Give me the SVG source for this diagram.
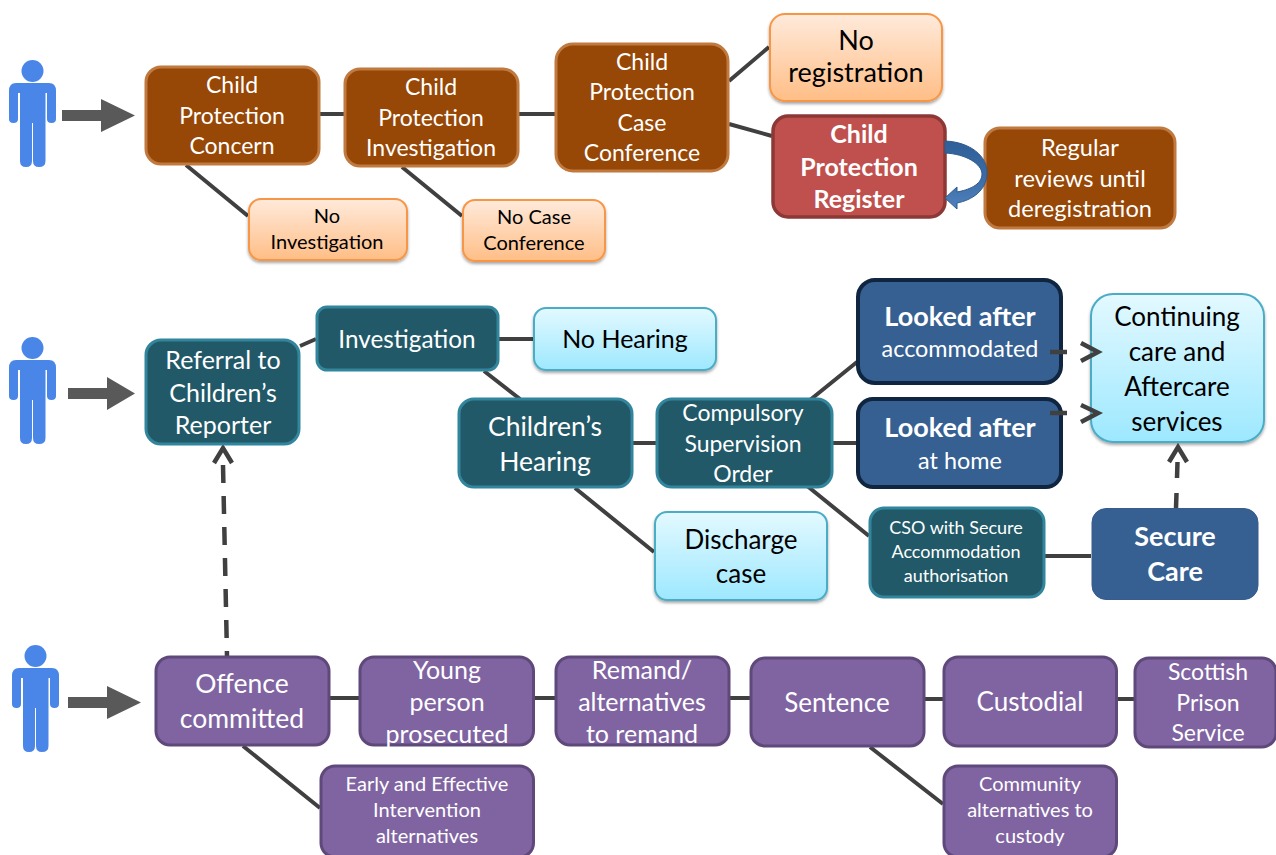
<svg xmlns="http://www.w3.org/2000/svg" xmlns:xlink="http://www.w3.org/1999/xlink" width="1276" height="855" viewBox="0 0 1276 855">
<style>
text{font-family:"Lato","Liberation Sans",sans-serif;text-anchor:middle}
.b{fill:#974706;stroke:#c0793f;stroke-width:3}
.o{fill:url(#og);stroke:#f79646;stroke-width:2;filter:url(#sh)}
.r{fill:#c0504d;stroke:#8c3836;stroke-width:3.500}
.t{fill:#215968;stroke:#31859c;stroke-width:3}
.c{fill:url(#cg);stroke:#4bacc6;stroke-width:2;filter:url(#sh)}
.n{fill:#366092;stroke:#10253f;stroke-width:4}
.s{fill:#366092;stroke:#385d8a;stroke-width:1}
.p{fill:#8064a2;stroke:#5f497a;stroke-width:3}
.w{fill:#fff}.k{fill:#000}.h{font-weight:700}
.ln{fill:none;stroke:#404040;stroke-width:4}
.da{fill:none;stroke:#404040;stroke-width:4.500}
.ah{fill:none;stroke:#404040;stroke-width:4.500}
.pa{fill:#595959}
</style>
<defs>
<linearGradient id="og" x1="0" y1="0" x2="0" y2="1"><stop offset="0" stop-color="#ffeadb"/><stop offset="1" stop-color="#ffbe86"/></linearGradient>
<linearGradient id="cg" x1="0" y1="0" x2="0" y2="1"><stop offset="0" stop-color="#e3f9ff"/><stop offset="1" stop-color="#9de8ff"/></linearGradient>
<linearGradient id="lg" x1="0" y1="0" x2="0" y2="1"><stop offset="0" stop-color="#2f5f98"/><stop offset="0.5" stop-color="#3a6ba6"/><stop offset="1" stop-color="#4f81bd"/></linearGradient>
<filter id="sh" x="-10%" y="-10%" width="120%" height="125%"><feDropShadow dx="0" dy="2" stdDeviation="1.500" flood-color="#000" flood-opacity="0.35"/></filter>
<g id="person"><circle cx="23.500" cy="12" r="11" fill="#4a86e8"/><path fill="#4a86e8" d="M7 24H40Q47 24 47 32V60Q47 64 42.500 64Q38 64 38 60V34H36.500V102Q36.500 108 30 108Q24 108 24 102V64H23V102Q23 108 17 108Q11 108 11 102V34H9V60Q9 64 4.500 64Q0 64 0 60V32Q0 24 7 24Z"/></g>
</defs>
<g id="connectors">
<path class="ln" d="M320 114H344M519 114H555M729 81L769 47M729 124L772 136M186 165L248 216M402 167L462 216"/>
<path class="ln" d="M300 346L316 339M499 339H533M484 371L520 399M633 443H656M575 488L654 552M833 443H857M810 400L857 362M806 485L869 536M1045 556H1091M330 698H359M534 698H555M730 698H750M925 699H943M1117 699H1134M243 746L320 808M870 747L943 804"/>
<path class="da" stroke-dasharray="18 13" d="M223 465L227 656"/>
<path class="ah" d="M214 463L223 448L232 463"/>
</g>
<g id="entry-arrows">
<use xlink:href="#person" href="#person" x="9" y="59"/>
<use xlink:href="#person" href="#person" x="9" y="336"/>
<use xlink:href="#person" href="#person" x="12" y="644"/>
<path class="pa" d="M62 110H101V99L135 115.500L101 132V121H62Z"/>
<path class="pa" d="M68 388H107V377L135 393.500L107 410V399H68Z"/>
<path class="pa" d="M68 697H107V686L141 702.500L107 719V708H68Z"/>
</g>
<g id="n-concern"><rect class="b" x="146" y="67" width="173" height="97" rx="15"/><g font-size="23"><text class="w" x="232" y="93">Child</text><text class="w" x="232" y="124">Protection</text><text class="w" x="232" y="154">Concern</text></g></g>
<g id="n-investigation"><rect class="b" x="345" y="69" width="173" height="97" rx="15"/><g font-size="23"><text class="w" x="431" y="95">Child</text><text class="w" x="431" y="126">Protection</text><text class="w" x="431" y="156">Investigation</text></g></g>
<g id="n-conference"><rect class="b" x="556" y="44" width="172" height="127" rx="17"/><g font-size="23"><text class="w" x="642" y="70">Child</text><text class="w" x="642" y="100">Protection</text><text class="w" x="642" y="131">Case</text><text class="w" x="642" y="161">Conference</text></g></g>
<g id="n-noreg"><rect class="o" x="770" y="14" width="172" height="87" rx="15"/><g font-size="27"><text class="k" x="856" y="50">No</text><text class="k" x="856" y="82">registration</text></g></g>
<g id="n-register"><rect class="r" x="773" y="116" width="172" height="101" rx="15"/><g font-size="25"><text class="w h" x="859" y="143">Child</text><text class="w h" x="859" y="176">Protection</text><text class="w h" x="859" y="208">Register</text></g></g>
<g id="n-reviews"><rect class="b" x="985" y="128" width="190" height="100" rx="15"/><g font-size="23.600"><text class="w" x="1080" y="156">Regular</text><text class="w" x="1080" y="187">reviews until</text><text class="w" x="1080" y="217">deregistration</text></g></g>
<g id="n-noinv"><rect class="o" x="249" y="199" width="158" height="61" rx="12"/><g font-size="20"><text class="k" x="327" y="223">No</text><text class="k" x="327" y="249">Investigation</text></g></g>
<g id="n-nocase"><rect class="o" x="463" y="200" width="142" height="61" rx="12"/><g font-size="20"><text class="k" x="534" y="224">No Case</text><text class="k" x="534" y="250">Conference</text></g></g>
<g id="n-referral"><rect class="t" x="146" y="340" width="153" height="104" rx="15"/><g font-size="25"><text class="w" x="223" y="369">Referral to</text><text class="w" x="223" y="402">Children’s</text><text class="w" x="223" y="434">Reporter</text></g></g>
<g id="n-invest2"><rect class="t" x="317" y="307" width="181" height="63" rx="10"/><text class="w" x="407" y="348" font-size="24.300">Investigation</text></g>
<g id="n-nohearing"><rect class="c" x="534" y="308" width="182" height="62" rx="12"/><text class="k" x="625" y="348" font-size="25">No Hearing</text></g>
<g id="n-hearing"><rect class="t" x="459" y="399" width="173" height="88" rx="15"/><g font-size="26.500"><text class="w" x="545" y="436">Children’s</text><text class="w" x="545" y="471">Hearing</text></g></g>
<g id="n-cso"><rect class="t" x="657" y="399" width="175" height="88" rx="15"/><g font-size="23"><text class="w" x="743" y="421">Compulsory</text><text class="w" x="743" y="452">Supervision</text><text class="w" x="743" y="482">Order</text></g></g>
<g id="n-discharge"><rect class="c" x="655" y="512" width="172" height="88" rx="12"/><g font-size="26"><text class="k" x="741" y="549">Discharge</text><text class="k" x="741" y="583">case</text></g></g>
<g id="n-la1"><rect class="n" x="858" y="280" width="203" height="103" rx="17"/><text class="w h" x="960" y="326" font-size="27">Looked after</text><text class="w" x="960" y="357" font-size="23.400">accommodated</text></g>
<g id="n-la2"><rect class="n" x="858" y="399" width="203" height="88" rx="15"/><text class="w h" x="960" y="437" font-size="27">Looked after</text><text class="w" x="960" y="469" font-size="23.400">at home</text></g>
<g id="n-continuing"><rect class="c" x="1091" y="294" width="173" height="148" rx="22"/><g font-size="26"><text class="k" x="1177" y="326">Continuing</text><text class="k" x="1177" y="361">care and</text><text class="k" x="1177" y="396">Aftercare</text><text class="k" x="1177" y="431">services</text></g></g>
<g id="n-csosecure"><rect class="t" x="870" y="508" width="174" height="89" rx="14"/><g font-size="18"><text class="w" x="956" y="534">CSO with Secure</text><text class="w" x="956" y="558">Accommodation</text><text class="w" x="956" y="582">authorisation</text></g></g>
<g id="n-secure"><rect class="s" x="1092" y="508.500" width="166" height="91" rx="14"/><g font-size="27"><text class="w h" x="1175" y="546">Secure</text><text class="w h" x="1175" y="581">Care</text></g></g>
<g id="n-offence"><rect class="p" x="156" y="657" width="173" height="88" rx="14"/><g font-size="26.500"><text class="w" x="242" y="693">Offence</text><text class="w" x="242" y="728">committed</text></g></g>
<g id="n-young"><rect class="p" x="360" y="657" width="173.500" height="88" rx="14"/><g font-size="25"><text class="w" x="447" y="679">Young</text><text class="w" x="447" y="711">person</text><text class="w" x="447" y="743">prosecuted</text></g></g>
<g id="n-remand"><rect class="p" x="556" y="657" width="173" height="88" rx="14"/><g font-size="25"><text class="w" x="642" y="679">Remand/</text><text class="w" x="642" y="711">alternatives</text><text class="w" x="642" y="743">to remand</text></g></g>
<g id="n-sentence"><rect class="p" x="751" y="658" width="173" height="88" rx="14"/><text class="w" x="837" y="712" font-size="26">Sentence</text></g>
<g id="n-custodial"><rect class="p" x="944" y="657" width="172.500" height="89" rx="14"/><text class="w" x="1030" y="711" font-size="26">Custodial</text></g>
<g id="n-prison"><rect class="p" x="1135" y="658" width="141" height="89" rx="14"/><g font-size="23"><text class="w" x="1208" y="680">Scottish</text><text class="w" x="1208" y="711">Prison</text><text class="w" x="1208" y="741">Service</text></g></g>
<g id="n-early"><rect class="p" x="321" y="766" width="212.500" height="91" rx="14"/><g font-size="20"><text class="w" x="427" y="791">Early and Effective</text><text class="w" x="427" y="817">Intervention</text><text class="w" x="427" y="843">alternatives</text></g></g>
<g id="n-community"><rect class="p" x="944" y="766" width="172.500" height="91" rx="14"/><g font-size="20"><text class="w" x="1030" y="791">Community</text><text class="w" x="1030" y="817">alternatives to</text><text class="w" x="1030" y="843">custody</text></g></g>
<g id="connectors-over">
<path fill="url(#lg)" stroke="#2f5a8f" stroke-width="1" d="M945 141C970 142 988 156 987 174C986 191 972 200 957 203L957 209L945 198L957 187L957 192C968 190 982 185 982 174C982 164 966 154 945 153Z"/>
<path class="da" d="M1050 352H1067M1050 413H1067M1176 508L1176.500 493M1177 478L1177.500 462"/>
<path class="ah" d="M1081 343L1098 352L1081 361M1081 405L1098 413L1081 422M1169 462L1178 447L1187 462"/>
</g>
</svg>
